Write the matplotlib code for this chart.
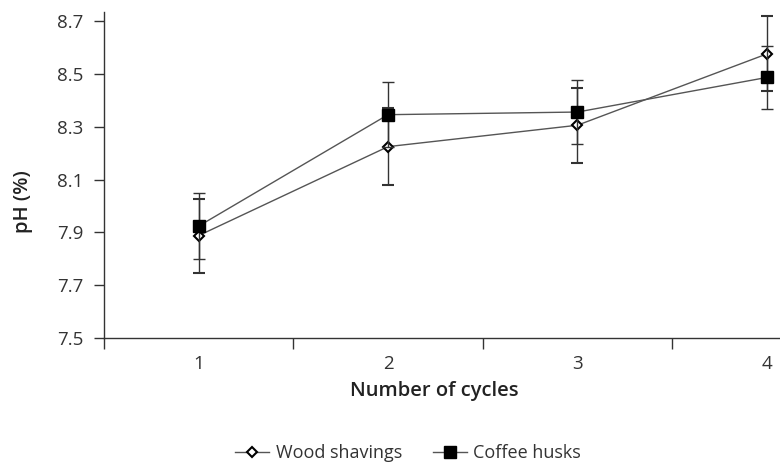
import matplotlib.pyplot as plt

plt.rcParams['font.family'] = ['Open Sans', 'DejaVu Sans']

# data
cycles = [1, 2, 3, 4]
cycle_labels = ['1', '2', '3', '4']
wood = [7.888, 8.225, 8.306, 8.576]
wood_err = [0.14, 0.145, 0.142, 0.142]
coffee = [7.924, 8.346, 8.356, 8.487]
coffee_err = [0.124, 0.123, 0.12, 0.121]
yticks = [7.5, 7.7, 7.9, 8.1, 8.3, 8.5, 8.7]

W, H = 780, 465
fig = plt.figure(figsize=(W / 100, H / 100), dpi=100)
ax = fig.add_axes([104 / W, 1 - 338 / H, 1 - 104 / W, (338 - 12) / H])

ax.errorbar(cycles, wood, yerr=wood_err, color='#555555', lw=1,
            marker='D', ms=5.5, mfc='white', mec='black', mew=1.5,
            ecolor='#333333', elinewidth=1, capsize=4.5, capthick=1,
            label='Wood shavings', zorder=3)
ax.errorbar(cycles, coffee, yerr=coffee_err, color='#555555', lw=1,
            marker='s', ms=8, mfc='black', mec='black',
            ecolor='#333333', elinewidth=1, capsize=4.5, capthick=1,
            label='Coffee husks', zorder=4)

ax.set_xlim(0.5, 4.07)
ax.set_ylim(7.5, 8.735)
ax.set_yticks(yticks)
ax.set_yticklabels([f'{v:.1f}' for v in yticks])
ax.set_xticks(cycles)
ax.set_xticklabels(cycle_labels)
ax.set_xticks([0.5, 1.5, 2.5, 3.5], minor=True)
ax.tick_params(axis='x', which='major', length=0, pad=12, labelsize=13.5, colors='#333333')
ax.tick_params(axis='x', which='minor', length=8, direction='out', width=1, color='#333333')
ax.tick_params(axis='y', length=7, direction='out', width=1, pad=8, labelsize=13.5,
               colors='#333333', color='#333333')

for s in ['top', 'right']:
    ax.spines[s].set_visible(False)
for s in ['left', 'bottom']:
    ax.spines[s].set_color('#333333')
    ax.spines[s].set_linewidth(1)

ax.set_xlabel('Number of cycles', fontsize=14.5, fontweight='semibold', color='#222222')
ax.xaxis.label.set_va('center')
ax.xaxis.set_label_coords(0.5 + (433 - 441) / 676, (338 - 391) / 326)
ax.set_ylabel('pH (%)', fontsize=14.5, fontweight='semibold', color='#222222')
ax.yaxis.label.set_va('center')
ax.yaxis.set_label_coords((23 - 104) / 676, (338 - 202) / 326)

handles, labels = ax.get_legend_handles_labels()
handles = [h[0] for h in handles]
fig.legend(handles, labels, loc='center', bbox_to_anchor=(408 / W, 1 - 453 / H),
           ncol=2, frameon=False, fontsize=13, handlelength=1.9, columnspacing=1.7,
           handletextpad=0.35, labelcolor='#333333')

fig.savefig('out.png', dpi=100)
